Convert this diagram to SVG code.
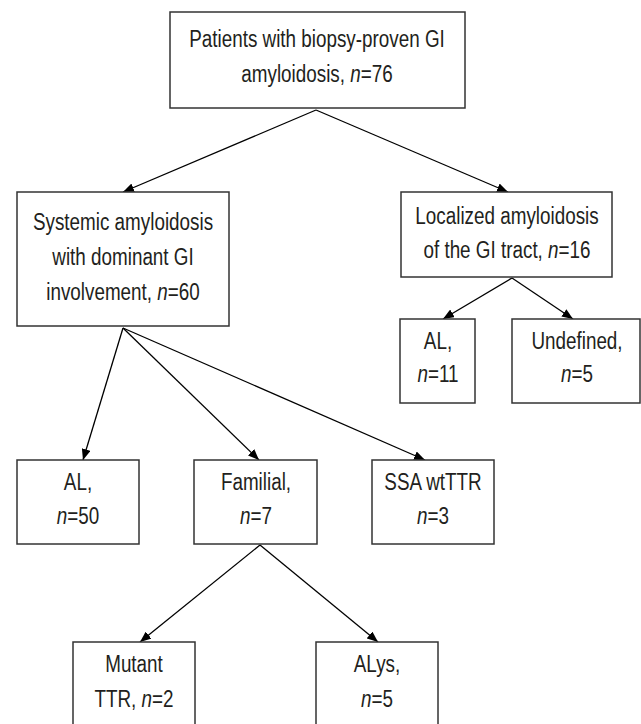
<svg xmlns="http://www.w3.org/2000/svg" width="641" height="724" viewBox="0 0 641 724">
<style>
.box{fill:#fff;stroke:#333;stroke-width:1.5}
.t{font-family:"Liberation Sans",Arial,sans-serif;font-size:23px;fill:#231f20;text-anchor:middle}
.i{font-style:italic}
.c{stroke:#000;stroke-width:1.3;fill:none;marker-end:url(#ah)}
</style>
<defs>
<marker id="ah" markerUnits="userSpaceOnUse" markerWidth="11" markerHeight="9" refX="11" refY="4.5" orient="auto">
<path d="M0,0 L11,4.5 L0,9 z" fill="#000"/>
</marker>
</defs>
<rect width="641" height="724" fill="#fff"/>
<g id="connectors">
<line class="c" x1="316" y1="110" x2="123" y2="192"/>
<line class="c" x1="316" y1="110" x2="508" y2="192"/>
<line class="c" x1="123" y1="328" x2="83" y2="460"/>
<line class="c" x1="123" y1="328" x2="259" y2="460"/>
<line class="c" x1="123" y1="328" x2="425" y2="460"/>
<line class="c" x1="512" y1="278" x2="443" y2="319"/>
<line class="c" x1="512" y1="278" x2="573" y2="319"/>
<line class="c" x1="260" y1="545" x2="140" y2="642"/>
<line class="c" x1="260" y1="545" x2="378" y2="642"/>
</g>
<g id="root">
<rect class="box" x="170" y="12" width="295" height="96"/>
<g transform="translate(317 0) scale(0.82 1)">
<text class="t" x="0" y="47">Patients with biopsy-proven GI</text>
<text class="t" x="0" y="82">amyloidosis, <tspan class="i">n</tspan>=76</text>
</g>
</g>
<g id="systemic">
<rect class="box" x="17" y="192" width="212" height="134"/>
<g transform="translate(123 0) scale(0.82 1)">
<text class="t" x="0" y="230">Systemic amyloidosis</text>
<text class="t" x="0" y="265">with dominant GI</text>
<text class="t" x="0" y="300">involvement, <tspan class="i">n</tspan>=60</text>
</g>
</g>
<g id="localized">
<rect class="box" x="401" y="192" width="211" height="85"/>
<g transform="translate(507 0) scale(0.82 1)">
<text class="t" x="0" y="224">Localized amyloidosis</text>
<text class="t" x="0" y="258">of the GI tract, <tspan class="i">n</tspan>=16</text>
</g>
</g>
<g id="loc-al">
<rect class="box" x="400" y="319" width="75" height="84"/>
<g transform="translate(438 0) scale(0.82 1)">
<text class="t" x="0" y="349">AL,</text>
<text class="t" x="0" y="382"><tspan class="i">n</tspan>=11</text>
</g>
</g>
<g id="loc-undefined">
<rect class="box" x="512" y="319" width="128" height="84"/>
<g transform="translate(577 0) scale(0.82 1)">
<text class="t" x="0" y="349">Undefined,</text>
<text class="t" x="0" y="382"><tspan class="i">n</tspan>=5</text>
</g>
</g>
<g id="sys-al">
<rect class="box" x="17" y="460" width="122" height="84"/>
<g transform="translate(78 0) scale(0.82 1)">
<text class="t" x="0" y="490">AL,</text>
<text class="t" x="0" y="524"><tspan class="i">n</tspan>=50</text>
</g>
</g>
<g id="familial">
<rect class="box" x="194" y="460" width="123" height="84"/>
<g transform="translate(256 0) scale(0.82 1)">
<text class="t" x="0" y="490">Familial,</text>
<text class="t" x="0" y="524"><tspan class="i">n</tspan>=7</text>
</g>
</g>
<g id="ssa">
<rect class="box" x="372" y="460" width="122" height="84"/>
<g transform="translate(433 0) scale(0.82 1)">
<text class="t" x="0" y="490">SSA wtTTR</text>
<text class="t" x="0" y="524"><tspan class="i">n</tspan>=3</text>
</g>
</g>
<g id="mutant">
<rect class="box" x="73" y="642" width="122" height="90"/>
<g transform="translate(134 0) scale(0.82 1)">
<text class="t" x="0" y="672">Mutant</text>
<text class="t" x="0" y="707">TTR, <tspan class="i">n</tspan>=2</text>
</g>
</g>
<g id="alys">
<rect class="box" x="316" y="642" width="122" height="90"/>
<g transform="translate(377 0) scale(0.82 1)">
<text class="t" x="0" y="672">ALys,</text>
<text class="t" x="0" y="707"><tspan class="i">n</tspan>=5</text>
</g>
</g>
</svg>
